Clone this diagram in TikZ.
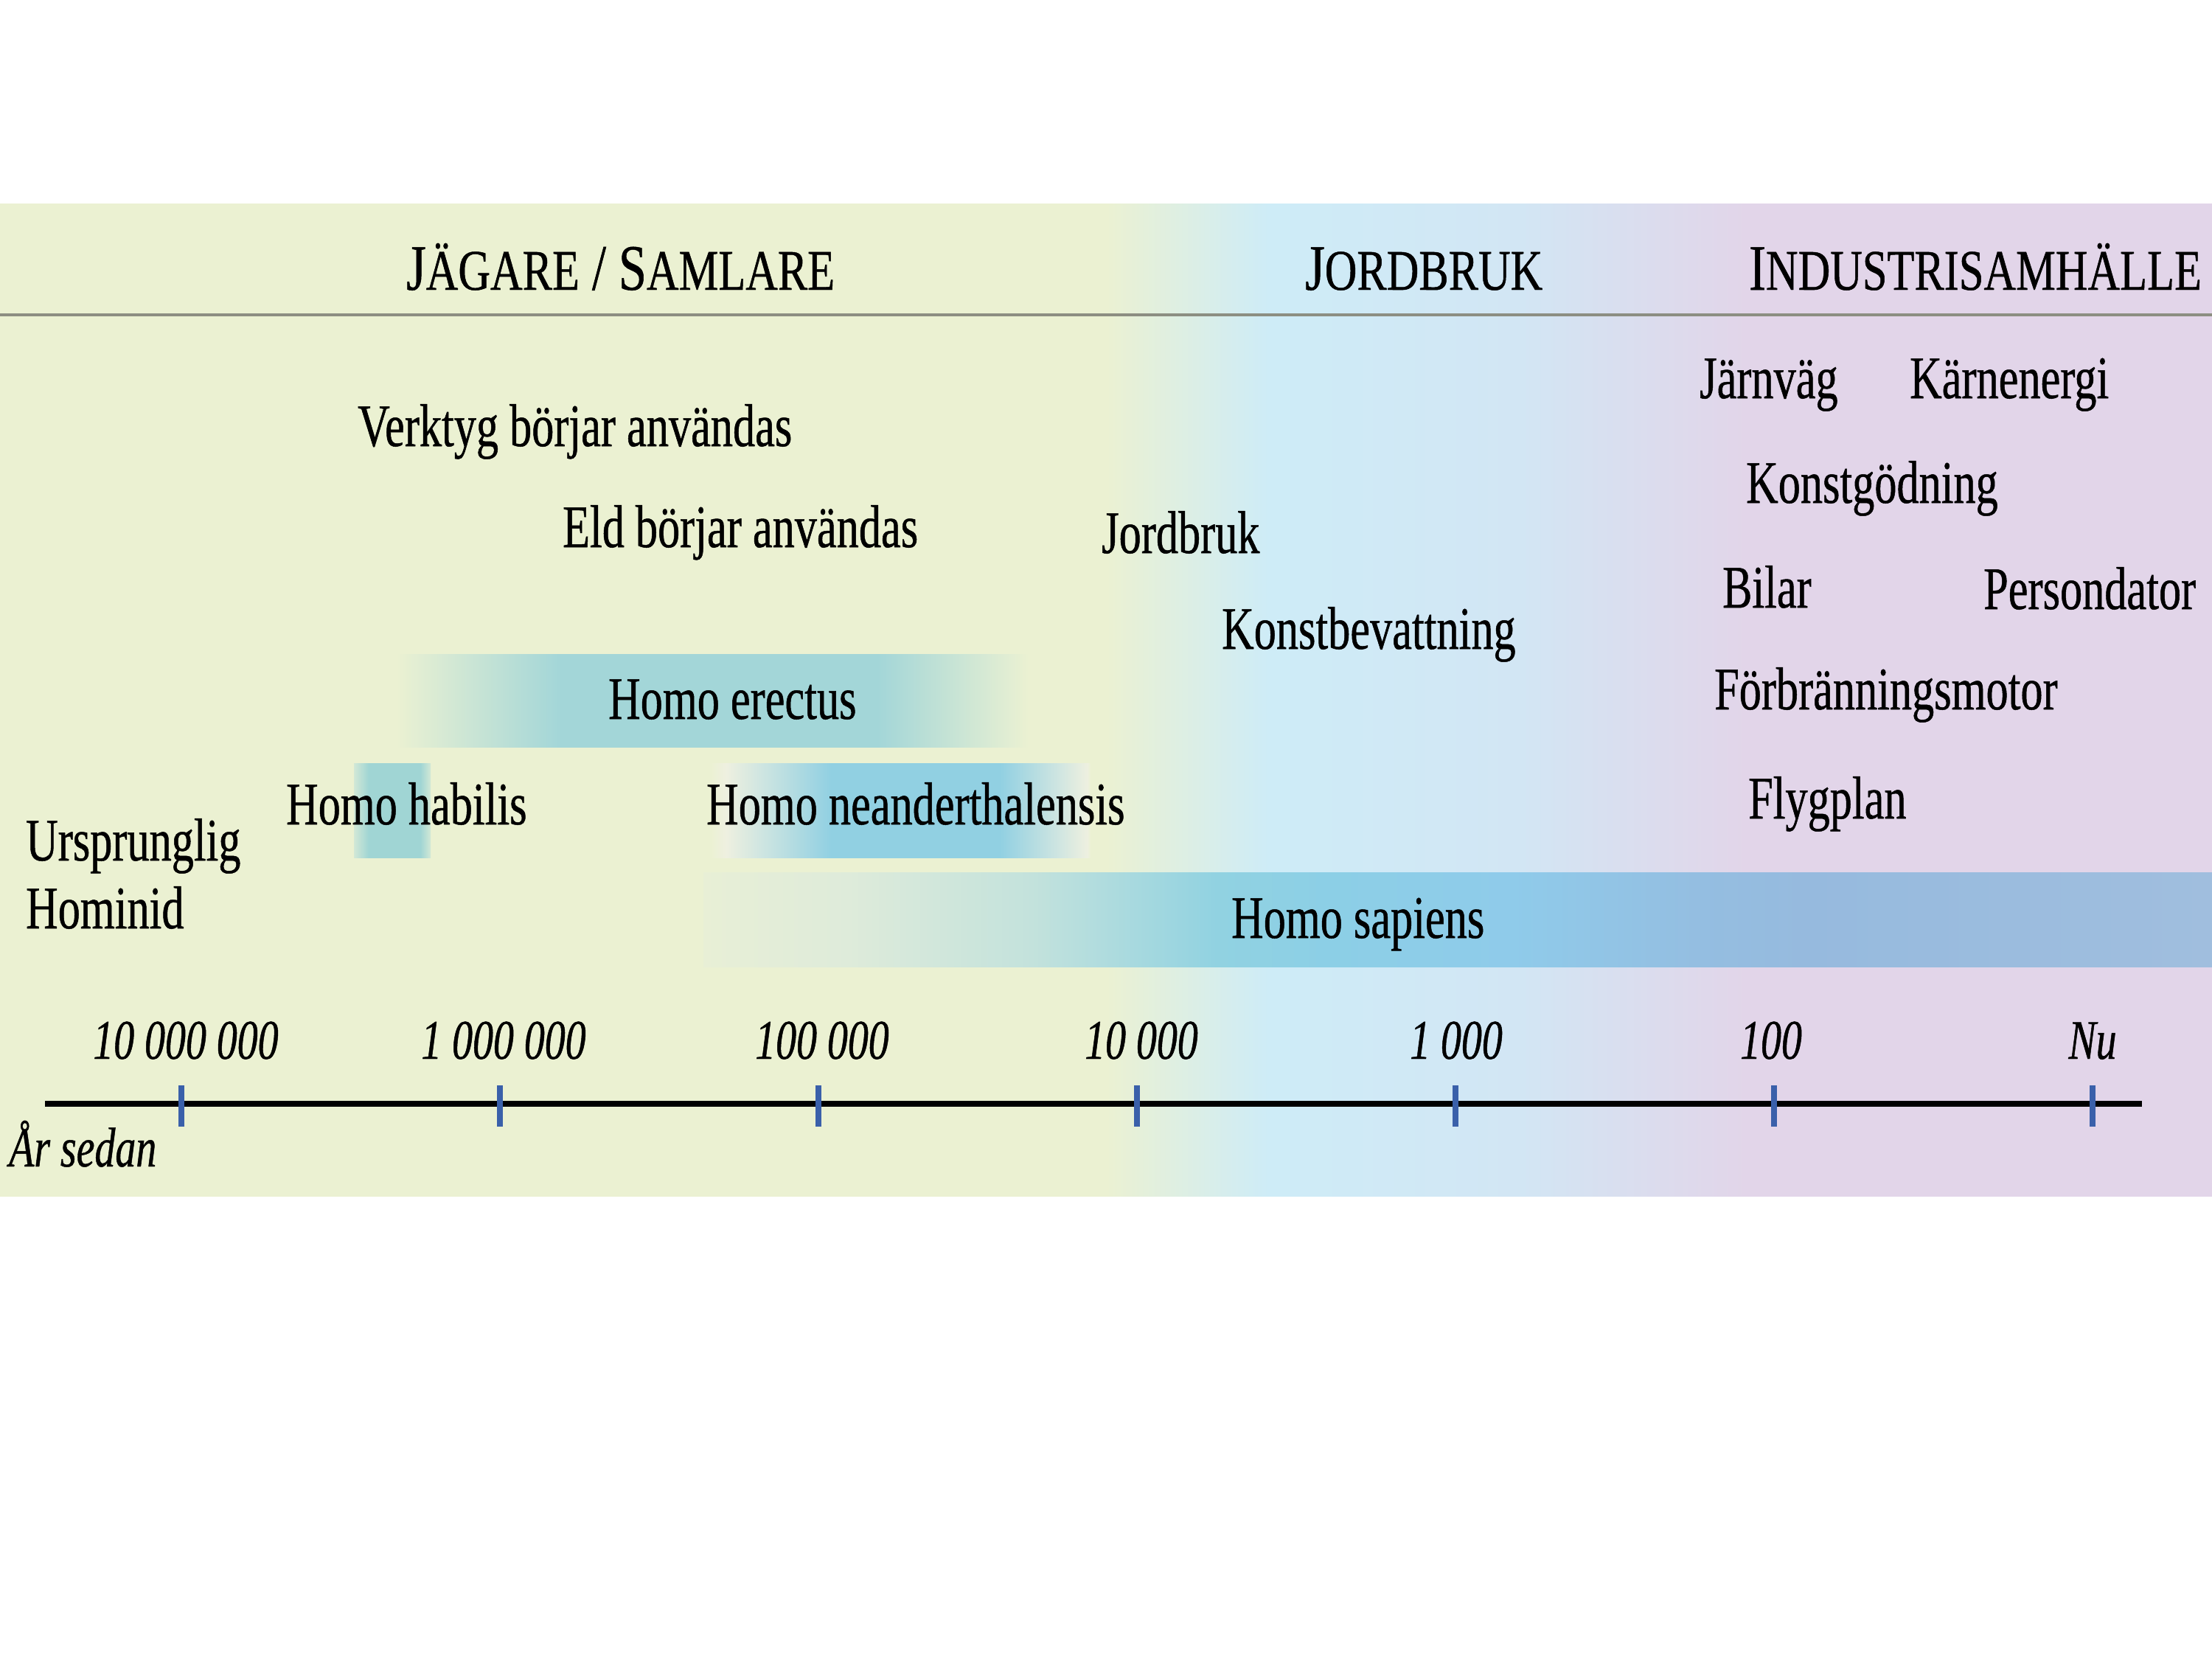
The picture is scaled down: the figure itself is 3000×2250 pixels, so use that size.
\documentclass[tikz,border=0pt]{standalone}
\usepackage{fontspec}
\setmainfont{Liberation Serif}[FakeStretch=0.735, FakeBold=0.6]
\newfontfamily\headfont{Liberation Serif}[FakeStretch=0.775, FakeBold=0.6]
\newcommand\hdrsmall{\fontsize{78}{90}\selectfont}

% palette
\definecolor{bgG}{RGB}{235,241,210}
\definecolor{bgB}{RGB}{206,236,247}
\definecolor{bgBB}{RGB}{210,230,244}
\definecolor{bgL}{RGB}{226,213,233}
\definecolor{erect}{RGB}{163,214,216}
\definecolor{habil}{RGB}{160,213,212}
\definecolor{habE}{RGB}{210,232,214}
\definecolor{neand}{RGB}{145,208,226}
\definecolor{neandPale}{RGB}{238,240,224}
\definecolor{spA}{RGB}{232,239,214}
\definecolor{spB}{RGB}{222,235,218}
\definecolor{spC}{RGB}{195,226,220}
\definecolor{spD}{RGB}{145,210,225}
\definecolor{spE}{RGB}{140,207,230}
\definecolor{spF}{RGB}{143,203,234}
\definecolor{spG}{RGB}{148,190,225}
\definecolor{spH}{RGB}{150,186,222}
\definecolor{spI}{RGB}{160,190,222}
\definecolor{tickblue}{RGB}{58,96,170}
\definecolor{rulegray}{RGB}{140,142,130}

% horizontal shadings (25bp..75bp span the filled box)
\pgfdeclarehorizontalshading{bandshade}{100bp}{color(0bp)=(bgG); color(25bp)=(bgG); color(50bp)=(bgG); color(53.67bp)=(bgB); color(59.33bp)=(bgBB); color(64.5bp)=(bgL); color(75bp)=(bgL); color(100bp)=(bgL)}
\pgfdeclarehorizontalshading{erectshade}{100bp}{color(0bp)=(bgG); color(25bp)=(bgG); color(37.95bp)=(erect); color(63.04bp)=(erect); color(75bp)=(bgG); color(100bp)=(bgG)}
\pgfdeclarehorizontalshading{habilshade}{100bp}{color(0bp)=(habE); color(25bp)=(habE); color(34.6bp)=(habil); color(68.3bp)=(habil); color(75bp)=(habE); color(100bp)=(habE)}
\pgfdeclarehorizontalshading{neandshade}{100bp}{color(0bp)=(bgG); color(25bp)=(bgG); color(27.2bp)=(neandPale); color(40.96bp)=(neand); color(63.1bp)=(neand); color(74.6bp)=(neandPale); color(75bp)=(bgG); color(100bp)=(bgG)}
\pgfdeclarehorizontalshading{sapiensshade}{100bp}{color(0bp)=(spA); color(25bp)=(spA); color(29.79bp)=(spB); color(35.9bp)=(spC); color(42.01bp)=(spD); color(45.67bp)=(spE); color(51.78bp)=(spF); color(57.89bp)=(spG); color(61.55bp)=(spH); color(75bp)=(spI); color(100bp)=(spI)}

\tikzset{
  evt/.style={anchor=base west, inner sep=0pt, font=\fontsize{82}{96}\selectfont},
  hdr/.style={anchor=base west, inner sep=0pt, font=\headfont\fontsize{88}{100}\selectfont},
  yr/.style={anchor=base, inner sep=0pt, font=\itshape\fontsize{76}{90}\selectfont},
  tickmark/.style={line width=8pt, draw=tickblue},
  axisline/.style={line width=8pt, draw=black},
}

\begin{document}
\begin{tikzpicture}[x=1pt,y=-1pt]
\useasboundingbox (0,0) rectangle (3000,2250);
\fill[white] (0,0) rectangle (3000,2250);

% coloured band of the three eras
\shade[shading=bandshade] (0,277) rectangle (3000,1622);
\draw[line width=4pt, rulegray] (0,427) -- (3000,427);

% era headings
\node[hdr] (hjakt) at (551,393) {J{\hdrsmall ÄGARE} / S{\hdrsmall AMLARE}};
\node[hdr] (hjord) at (1770,393) {J{\hdrsmall ORDBRUK}};
\node[hdr] (hind) at (2372,393) {I{\hdrsmall NDUSTRISAMHÄLLE}};

% species bars
\shade[shading=erectshade] (538,887) rectangle (1395,1013);
\shade[shading=habilshade] (480,1035) rectangle (584,1163);
\shade[shading=neandshade] (962,1035) rectangle (1479,1163);
\shade[shading=sapiensshade] (954,1183) rectangle (3000,1311);

% events
\node[evt] (verktyg) at (485,605) {Verktyg börjar användas};
\node[evt] (eld) at (763,742) {Eld börjar användas};
\node[evt] (jordbruk) at (1494,750) {Jordbruk};
\node[evt] (bevatt) at (1657,880) {Konstbevattning};
\node[evt] (jarnvag) at (2305,540) {Järnväg};
\node[evt] (karn) at (2590,540) {Kärnenergi};
\node[evt] (godning) at (2368,682) {Konstgödning};
\node[evt] (bilar) at (2336,824) {Bilar};
\node[evt] (dator) at (2690,826) {Persondator};
\node[evt] (motor) at (2325,962) {Förbränningsmotor};
\node[evt] (flyg) at (2371,1110) {Flygplan};

% species
\node[evt] (erectus) at (825,975) {Homo erectus};
\node[evt] (habilis) at (388,1118) {Homo habilis};
\node[evt] (neand) at (958,1118) {Homo neanderthalensis};
\node[evt] (urspr) at (35,1167) {Ursprunglig};
\node[evt] (hominid) at (35,1259) {Hominid};
\node[evt] (sapiens) at (1670,1272) {Homo sapiens};

% time axis
\coordinate (axA) at (61,1497);
\coordinate (axB) at (2905,1497);
\draw[axisline] (axA) -- (axB);
\foreach \x/\n in {246/t1,678/t2,1110/t3,1542/t4,1974/t5,2406/t6,2838/t7}{
  \coordinate (\n top) at (\x,1472);
  \coordinate (\n bot) at (\x,1528);
  \draw[tickmark] (\n top) -- (\n bot);
}
\node[yr] (y1) at (252,1436) {10 000 000};
\node[yr] (y2) at (683,1436) {1 000 000};
\node[yr] (y3) at (1115,1436) {100 000};
\node[yr] (y4) at (1548,1436) {10 000};
\node[yr] (y5) at (1975,1436) {1 000};
\node[yr] (y6) at (2402,1436) {100};
\node[yr] (y7) at (2838,1436) {Nu};
\node[yr, anchor=base west] (arsedan) at (12,1582) {År sedan};
\end{tikzpicture}
\end{document}
